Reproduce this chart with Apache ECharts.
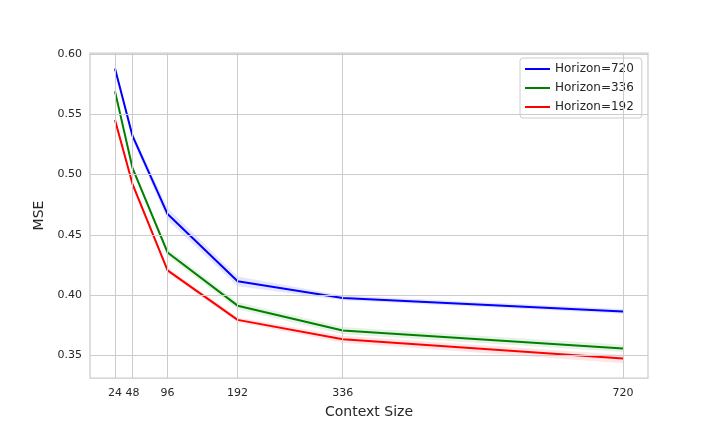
<!DOCTYPE html>
<html><head><meta charset="utf-8">
<script src="https://cdn.jsdelivr.net/npm/echarts@6/dist/echarts.min.js"></script>
<style>html,body{margin:0;padding:0;background:#fff}#c{width:720px;height:432px}</style>
</head><body><div id="c"></div>
<script>
const contextSizes = [24, 48, 96, 192, 336, 720];
const yTicks = [0.35, 0.40, 0.45, 0.50, 0.55, 0.60];
const names = ['Horizon=720', 'Horizon=336', 'Horizon=192'];
const colors = ['#0000ff', '#008000', '#ff0000'];
const mse720 = [0.5882, 0.5321, 0.4672, 0.4113, 0.3975, 0.3863];
const mse336 = [0.5691, 0.5054, 0.4353, 0.3911, 0.3704, 0.3556];
const mse192 = [0.5454, 0.4921, 0.4204, 0.3793, 0.3632, 0.3473];
const lo720 = [0.5862, 0.5291, 0.4622, 0.4073, 0.3955, 0.3843];
const hi720 = [0.5902, 0.5351, 0.4722, 0.4153, 0.3995, 0.3883];
const lo336 = [0.5671, 0.5034, 0.4323, 0.3881, 0.3674, 0.3526];
const hi336 = [0.5711, 0.5074, 0.4383, 0.3941, 0.3734, 0.3586];
const lo192 = [0.5434, 0.4901, 0.4184, 0.3773, 0.3602, 0.3433];
const hi192 = [0.5474, 0.4941, 0.4224, 0.3813, 0.3662, 0.3503];

const means = [mse720, mse336, mse192];
const los = [lo720, lo336, lo192];
const his = [hi720, hi336, hi192];
const font = 'DejaVu Sans';
const txt = '#262626';

const series = [];
// grid lines
series.push({
  type: 'line', data: [], silent: true, z: 0,
  markLine: {
    silent: true, symbol: 'none', label: {show: false}, animation: false,
    lineStyle: {color: '#cccccc', type: 'solid', width: 1},
    data: contextSizes.map(v => ({xAxis: v})).concat(yTicks.map(v => ({yAxis: v})))
  }
});
// confidence bands
for (let k = 0; k < 3; k++) {
  const bandData = contextSizes.map((x, i) => [x, los[k][i], his[k][i]]);
  series.push({
    type: 'custom', silent: true, z: 1,
    data: [bandData[0]],
    encode: {x: 0, y: [1, 2]},
    renderItem: function (params, api) {
      const upper = bandData.map(d => api.coord([d[0], d[2]]));
      const lower = bandData.slice().reverse().map(d => api.coord([d[0], d[1]]));
      return {
        type: 'polygon',
        shape: {points: upper.concat(lower)},
        style: {fill: colors[k], opacity: 0.1}
      };
    }
  });
}
for (let k = 0; k < 3; k++) {
  series.push({
    name: names[k], type: 'line', symbol: 'none', z: 3,
    lineStyle: {color: colors[k], width: 2}, itemStyle: {color: colors[k]},
    data: contextSizes.map((x, i) => [x, means[k][i]])
  });
}

const chart = echarts.init(document.getElementById('c'), null, {renderer: 'canvas'});
chart.setOption({
  animation: false,
  backgroundColor: '#ffffff',
  grid: {left: 90, right: 72, top: 53, bottom: 54, show: true, borderColor: '#cccccc', borderWidth: 1.25, backgroundColor: 'transparent'},
  xAxis: {
    type: 'value', min: -10.25, max: 754.25,
    name: 'Context Size', nameLocation: 'middle', nameGap: 27,
    nameTextStyle: {fontFamily: font, fontSize: 14, color: txt},
    axisLine: {show: false}, axisTick: {show: false}, splitLine: {show: false},
    axisLabel: {customValues: contextSizes, fontFamily: font, fontSize: 11, color: txt, margin: 10}
  },
  yAxis: {
    type: 'value', min: 0.331, max: 0.601,
    name: 'MSE', nameLocation: 'middle', nameGap: 40,
    nameTextStyle: {fontFamily: font, fontSize: 14, color: txt},
    axisLine: {show: false}, axisTick: {show: false}, splitLine: {show: false},
    axisLabel: {customValues: yTicks, fontFamily: font, fontSize: 11, color: txt, margin: 8,
      formatter: v => v.toFixed(2)}
  },
  legend: {
    data: names, orient: 'vertical', left: 520, top: 58,
    icon: 'rect', itemWidth: 25, itemHeight: 2, itemGap: 5, itemTextGap: 13,
    padding: [4, 8, 4, 5],
    backgroundColor: 'rgba(255,255,255,0.8)', borderColor: '#cccccc', borderWidth: 1, borderRadius: 3,
    textStyle: {fontFamily: font, fontSize: 12, color: txt, lineHeight: 14}
  },
  series: series
});
</script></body></html>
